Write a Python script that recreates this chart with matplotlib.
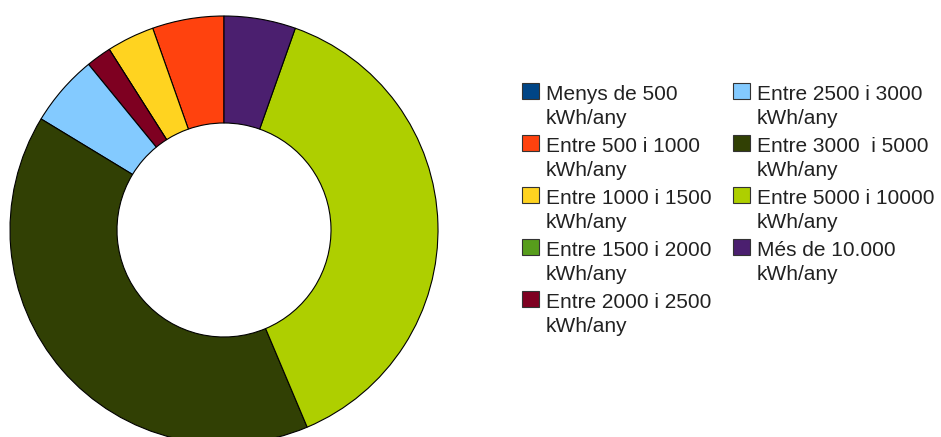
import matplotlib.pyplot as plt
from matplotlib.patches import Rectangle

# Dades (percentatge de cada franja de consum)
categories = ['Menys de 500\nkWh/any', 'Entre 500 i 1000\nkWh/any',
              'Entre 1000 i 1500\nkWh/any', 'Entre 1500 i 2000\nkWh/any',
              'Entre 2000 i 2500\nkWh/any', 'Entre 2500 i 3000\nkWh/any',
              'Entre 3000  i 5000\nkWh/any', 'Entre 5000 i 10000\nkWh/any',
              'Més de 10.000\nkWh/any']
values = [0.0, 5.4, 3.6, 0.0, 1.9, 5.4, 40.0, 38.2, 5.4]
colors = ['#004586', '#ff420e', '#ffd320', '#579d1c', '#7e0021',
          '#83caff', '#314004', '#aecf00', '#4b1f6f']

W, H = 941, 437
plt.rcParams['font.family'] = ['Liberation Sans', 'DejaVu Sans']

fig = plt.figure(figsize=(W / 100, H / 100), dpi=100)

# Donut: centre (224, 230) px, radi 214 px
cx, cy, r = 224, 230, 214
ax = fig.add_axes([(cx - r) / W, (H - cy - r) / H, 2 * r / W, 2 * r / H])
ax.pie(values, colors=colors, startangle=90, counterclock=True, radius=1,
       wedgeprops=dict(width=0.5, edgecolor='black', linewidth=0.8))
ax.set_xlim(-1, 1)
ax.set_ylim(-1, 1)
ax.set_aspect('equal')
ax.axis('off')

# Llegenda en dues columnes
col_x = [522, 733]
row0, row_step, line_step = 94, 52, 24
for i, (label, color) in enumerate(zip(categories, colors)):
    col = 0 if i < 5 else 1
    row = i if i < 5 else i - 5
    y = row0 + row * row_step
    x = col_x[col]
    fig.patches.append(Rectangle((x / W, (H - y - 5) / H), 17 / W, 16 / H,
                                 transform=fig.transFigure, facecolor=color,
                                 edgecolor='#333333', linewidth=0.8))
    for k, line in enumerate(label.split('\n')):
        fig.text((x + 24) / W, (H - y - k * line_step) / H, line,
                 ha='left', va='center', fontsize=15, color='#222222')

fig.savefig('out.png', dpi=100, facecolor='white')
